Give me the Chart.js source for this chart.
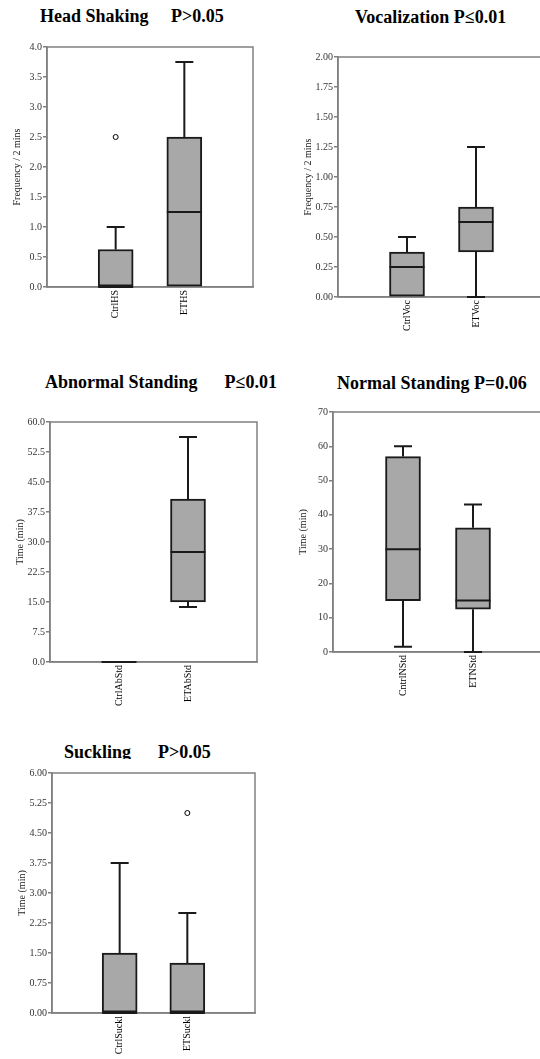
<!DOCTYPE html>
<html lang="en">
<head>
<meta charset="UTF-8">
<title>Behaviour box plots</title>
<script src="https://cdn.jsdelivr.net/npm/chart.js"></script>
<style>
  html, body { margin: 0; padding: 0; background: #fff; }
  #page { position: relative; width: 540px; height: 1059px; overflow: hidden; }
  .title {
    position: absolute;
    font: bold 18px 'Liberation Serif', 'Times New Roman', serif;
    line-height: 18px;
    white-space: pre;
    color: #000;
  }
  canvas { position: absolute; }
</style>
</head>
<body>
<div id="page">
  <div class="title" style="left:40px;top:7px">Head Shaking     P&gt;0.05</div>
  <div class="title" style="left:355px;top:8px">Vocalization P≤0.01</div>
  <div class="title" style="left:45px;top:373px">Abnormal Standing      P≤0.01</div>
  <div class="title" style="left:337px;top:374px">Normal Standing P=0.06</div>
  <div class="title" style="left:64px;top:743px;height:16px;overflow:hidden">Suckling      P&gt;0.05</div>

  <canvas id="hsChart"></canvas>
  <canvas id="vocChart"></canvas>
  <canvas id="absChart"></canvas>
  <canvas id="nsChart"></canvas>
  <canvas id="suckChart"></canvas>
</div>

<script>
// Head shaking
var hsCats = ['CtrlHS', 'ETHS'];
var hsMin = [0, 0];
var hsQ1 = [0, 0];
var hsMed = [0, 1.25];
var hsQ3 = [0.625, 2.5];
var hsMax = [1.0, 3.75];
var hsOut = [[2.5], []];
var hsTicks = ['0.0', '0.5', '1.0', '1.5', '2.0', '2.5', '3.0', '3.5', '4.0'];

// Vocalization
var vocCats = ['CtrlVoc', 'ETVoc'];
var vocMin = [0, 0];
var vocQ1 = [0, 0.375];
var vocMed = [0.25, 0.625];
var vocQ3 = [0.375, 0.75];
var vocMax = [0.5, 1.25];
var vocOut = [[], []];
var vocTicks = ['0.00', '0.25', '0.50', '0.75', '1.00', '1.25', '1.50', '1.75', '2.00'];

// Abnormal standing
var absCats = ['CtrlAbStd', 'ETAbStd'];
var absMin = [0, 13.75];
var absQ1 = [0, 15];
var absMed = [0, 27.5];
var absQ3 = [0, 40.75];
var absMax = [0, 56.25];
var absOut = [[], []];
var absTicks = ['0.0', '7.5', '15.0', '22.5', '30.0', '37.5', '45.0', '52.5', '60.0'];

// Normal standing
var nsCats = ['CntrlNStd', 'ETNStd'];
var nsMin = [1.5, 0];
var nsQ1 = [15, 12.5];
var nsMed = [30, 15];
var nsQ3 = [57, 36.25];
var nsMax = [60, 43];
var nsOut = [[], []];
var nsTicks = ['0', '10', '20', '30', '40', '50', '60', '70'];

// Suckling
var suckCats = ['CtrlSuckl', 'ETSuckl'];
var suckMin = [0, 0];
var suckQ1 = [0, 0];
var suckMed = [0, 0];
var suckQ3 = [1.5, 1.25];
var suckMax = [3.75, 2.5];
var suckOut = [[], [5.0]];
var suckTicks = ['0.00', '0.75', '1.50', '2.25', '3.00', '3.75', '4.50', '5.25', '6.00'];

var AXIS_GREY = '#808080';
var LINE_DARK = '#1a1a1a';

// frame around the plot + median line and whiskers, positioned from the scales
var boxPlugin = {
    id: 'boxExtras',
    beforeDatasetsDraw: function(chart) {
        var a = chart.chartArea, ctx = chart.ctx;
        ctx.save();
        ctx.strokeStyle = AXIS_GREY;
        ctx.lineWidth = 1.5;
        ctx.strokeRect(a.left, a.top, a.right - a.left, a.bottom - a.top);
        ctx.restore();
    },
    afterDatasetsDraw: function(chart) {
        var ctx = chart.ctx, ys = chart.scales.y;
        var ds = chart.data.datasets[0];
        var bars = chart.getDatasetMeta(0).data;
        ctx.save();
        ctx.strokeStyle = LINE_DARK;
        ctx.lineWidth = 2;
        bars.forEach(function(bar, i) {
            var x = bar.x, half = bar.width / 2, cap = 9;
            var pq1 = ys.getPixelForValue(ds.q1[i]);
            var pq3 = ys.getPixelForValue(ds.q3[i]);
            ctx.beginPath();
            // median
            var pm = ys.getPixelForValue(ds.med[i]);
            ctx.moveTo(x - half, pm);
            ctx.lineTo(x + half, pm);
            if (ds.max[i] > ds.q3[i]) {
                var pmax = ys.getPixelForValue(ds.max[i]);
                ctx.moveTo(x, pq3);
                ctx.lineTo(x, pmax);
                ctx.moveTo(x - cap, pmax);
                ctx.lineTo(x + cap, pmax);
            }
            if (ds.min[i] < ds.q1[i]) {
                var pmin = ys.getPixelForValue(ds.min[i]);
                ctx.moveTo(x, pq1);
                ctx.lineTo(x, pmin);
                ctx.moveTo(x - cap, pmin);
                ctx.lineTo(x + cap, pmin);
            }
            ctx.stroke();
        });
        ctx.restore();
    }
};

function boxChart(id, area, cats, mins, q1s, meds, q3s, maxs, outs, ticks, yTitle) {
    var yw = 46, xh = 52, padTop = 8, padRight = 2;
    var canvas = document.getElementById(id);
    canvas.width = area.r - area.l + yw + padRight;
    canvas.height = area.b - area.t + padTop + xh;
    canvas.style.left = (area.l - yw) + 'px';
    canvas.style.top = (area.t - padTop) + 'px';

    var outPts = [];
    outs.forEach(function(vals, i) {
        vals.forEach(function(v) { outPts.push({ x: i + 1, y: v }); });
    });

    return new Chart(canvas.getContext('2d'), {
        type: 'bar',
        data: {
            datasets: [{
                type: 'bar',
                data: cats.map(function(c, i) { return { x: i + 1, y: [q1s[i], q3s[i]] }; }),
                backgroundColor: '#a8a8a8',
                borderColor: LINE_DARK,
                borderWidth: 2,
                borderSkipped: false,
                barThickness: 35,
                min: mins, q1: q1s, med: meds, q3: q3s, max: maxs
            }, {
                type: 'scatter',
                data: outPts,
                pointRadius: 2.5,
                pointBackgroundColor: '#fff',
                pointBorderColor: '#000',
                pointBorderWidth: 1
            }]
        },
        options: {
            responsive: false,
            animation: false,
            devicePixelRatio: 1,
            layout: { padding: { top: padTop, right: padRight, left: 0, bottom: 0 } },
            plugins: { legend: { display: false }, tooltip: { enabled: false } },
            scales: {
                x: {
                    type: 'linear',
                    min: 0,
                    max: cats.length + 1,
                    offset: false,
                    afterBuildTicks: function(s) {
                        s.ticks = cats.map(function(c, i) { return { value: i + 1 }; });
                    },
                    ticks: {
                        callback: function(v, i) { return cats[i]; },
                        autoSkip: false,
                        minRotation: 90,
                        maxRotation: 90,
                        padding: 3,
                        color: '#000',
                        font: { family: 'Liberation Serif', size: 10 }
                    },
                    grid: { display: false, drawTicks: false, offset: false },
                    border: { color: AXIS_GREY, width: 1.5 },
                    afterFit: function(s) { s.height = xh; }
                },
                y: {
                    min: 0,
                    max: parseFloat(ticks[ticks.length - 1]),
                    afterBuildTicks: function(s) {
                        s.ticks = ticks.map(function(t) { return { value: parseFloat(t) }; });
                    },
                    ticks: {
                        callback: function(v, i) { return ticks[i]; },
                        padding: 1,
                        color: '#333',
                        font: { family: "'Liberation Sans Narrow', 'Liberation Serif'", size: 10 }
                    },
                    grid: { drawOnChartArea: false, drawTicks: true, tickLength: 4, color: AXIS_GREY, lineWidth: 1.5 },
                    border: { color: AXIS_GREY, width: 1.5 },
                    title: {
                        display: true,
                        text: yTitle,
                        color: '#222',
                        font: { family: 'Liberation Serif', size: 10 },
                        padding: { top: 10, bottom: 0 }
                    },
                    afterFit: function(s) { s.width = yw; }
                }
            }
        },
        plugins: [boxPlugin]
    });
}

boxChart('hsChart', { l: 47, t: 47, r: 256, b: 287 },
    hsCats, hsMin, hsQ1, hsMed, hsQ3, hsMax, hsOut, hsTicks, 'Frequency / 2 mins');
boxChart('vocChart', { l: 338, t: 57, r: 545, b: 297 },
    vocCats, vocMin, vocQ1, vocMed, vocQ3, vocMax, vocOut, vocTicks, 'Frequency / 2 mins');
boxChart('absChart', { l: 50, t: 422, r: 257, b: 662 },
    absCats, absMin, absQ1, absMed, absQ3, absMax, absOut, absTicks, 'Time (min)');
boxChart('nsChart', { l: 333, t: 412, r: 543, b: 652 },
    nsCats, nsMin, nsQ1, nsMed, nsQ3, nsMax, nsOut, nsTicks, 'Time (min)');
boxChart('suckChart', { l: 52, t: 773, r: 258, b: 1013 },
    suckCats, suckMin, suckQ1, suckMed, suckQ3, suckMax, suckOut, suckTicks, 'Time (min)');
</script>
</body>
</html>
